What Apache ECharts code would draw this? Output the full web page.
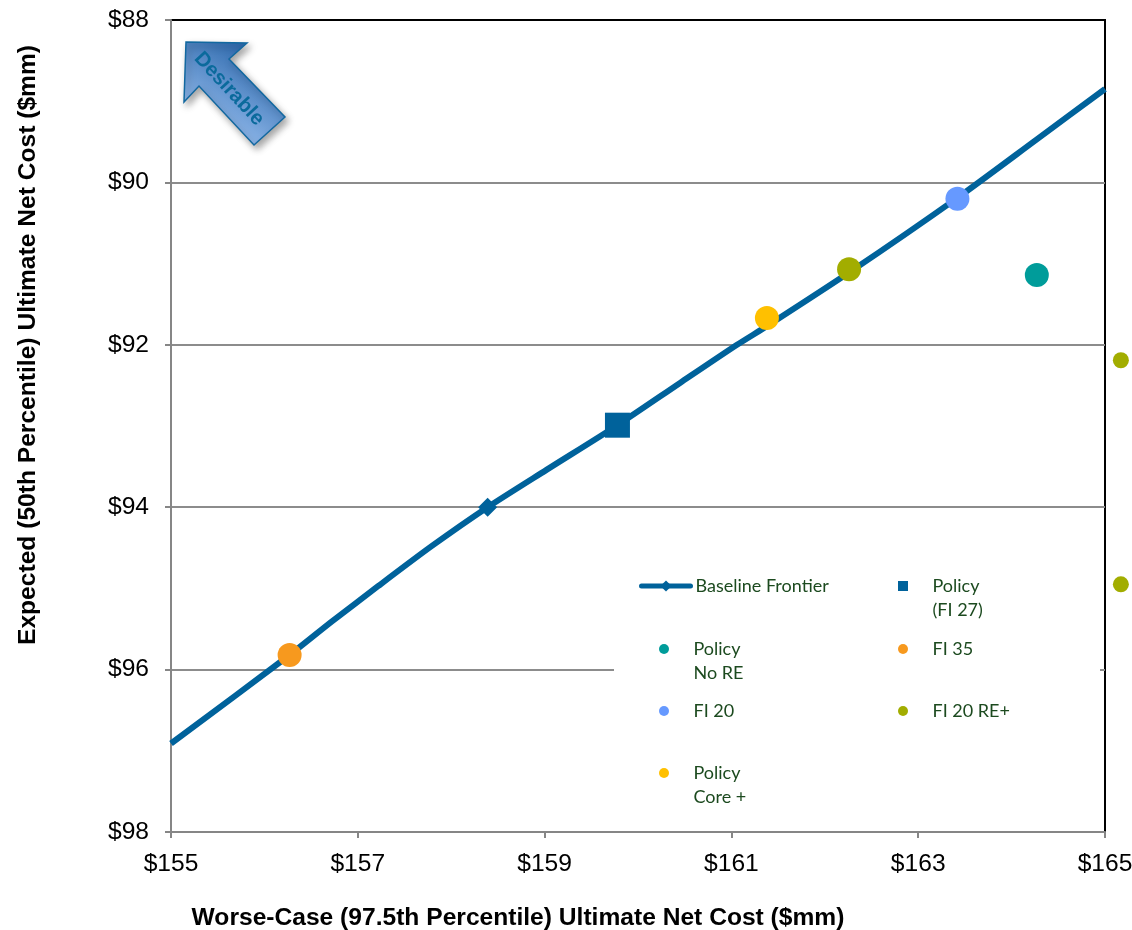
<!DOCTYPE html>
<html>
<head>
<meta charset="utf-8">
<style>html,body{margin:0;padding:0;background:#fff}#chart{width:1132px;height:930px}</style>
<script src="https://cdn.jsdelivr.net/npm/echarts@6/dist/echarts.min.js"></script>
</head>
<body>
<div id="chart"></div>
<script>
// Efficient frontier: worse-case cost against expected cost
const frontierX = [155, 156.27, 156.72, 157.22, 157.79, 158.39, 159.02, 159.78, 160.45, 161.06, 161.38, 162.26, 163.42, 164.27, 165];
const frontierY = [96.91, 95.82, 95.41, 94.97, 94.48, 94.0, 93.54, 92.99, 92.47, 92.0, 91.77, 91.11, 90.19, 89.47, 88.85];
const frontierMarkerAt = 5;

const policyFI27 = [[159.78, 92.99]];
const policyNoRE = [[164.27, 91.14]];
const fi35 = [[156.27, 95.82]];
const fi20 = [[163.42, 90.2]];
const fi20REPlusLarge = [[162.26, 91.07]];
const fi20REPlusSmall = [[165.17, 92.19], [165.17, 94.95]];
const policyCorePlus = [[161.38, 91.67]];

const legendNames = ['Baseline Frontier', 'Policy (FI 27)', 'Policy No RE', 'FI 35', 'FI 20', 'FI 20 RE+', 'Policy Core +'];
const legendLabels = [['Baseline Frontier'], ['Policy', '(FI 27)'], ['Policy', 'No RE'], ['FI 35'], ['FI 20'], ['FI 20 RE+'], ['Policy', 'Core +']];

const COLORS = {
  navy: '#00629b', teal: '#009c9a', orange: '#f7991e',
  blue: '#6699ff', olive: '#a2ad00', gold: '#ffc000'
};
const FONT = '"Liberation Sans", Arial, sans-serif';
const AXIS_FONT_SIZE = 24.6;
const LEGEND_LINE = 24;
const LEGEND_COL = [659, 898];
const LEGEND_ROW = [586, 649, 711, 773];

const legends = legendNames.map((name, i) => {
  const isFrontier = i === 0;
  const entry = {
    data: [name],
    left: isFrontier ? 639 : LEGEND_COL[i % 2],
    top: LEGEND_ROW[Math.floor(i / 2)] - LEGEND_LINE * 1.5,
    padding: 0,
    itemWidth: 49,
    itemHeight: isFrontier ? 14 : 10,
    selectedMode: false,
    // The empty first line keeps the icon level with the first text line
    formatter: () => '\n' + legendLabels[i][0] + '\n' + (legendLabels[i][1] || ' '),
    textStyle: { fontFamily: 'Lato, sans-serif', fontSize: 18, lineHeight: LEGEND_LINE, color: '#1c4a1f' }
  };
  if (isFrontier) entry.lineStyle = { width: 5, cap: 'round' };
  if (name === 'Policy (FI 27)') entry.icon = 'path://M0,0H10V10H0Z';
  return entry;
});

const scatter = (name, data, color, symbol, size) => ({
  name, type: 'scatter', data, symbol, symbolSize: size, clip: false, z: 5,
  itemStyle: { color, opacity: 1 }
});

const option = {
  animation: false,
  backgroundColor: '#fff',
  grid: {
    left: 171, right: 27, top: 20, bottom: 98, outerBoundsMode: 'none',
    show: true, borderColor: '#000', borderWidth: 2, backgroundColor: 'transparent'
  },
  legend: legends,
  xAxis: {
    type: 'value', min: 155, max: 165, interval: 2, position: 'bottom',
    name: 'Worse-Case (97.5th Percentile) Ultimate Net Cost ($mm)',
    nameLocation: 'middle', nameGap: 74,
    nameTextStyle: { fontFamily: FONT, fontSize: AXIS_FONT_SIZE, fontWeight: 'bold', color: '#000', padding: [0, 240, 0, 0] },
    axisLine: { onZero: false, lineStyle: { color: '#868686', width: 2 } },
    axisTick: { show: true, length: 6, lineStyle: { color: '#868686', width: 2 } },
    axisLabel: { formatter: v => '$' + v, fontFamily: FONT, fontSize: AXIS_FONT_SIZE, color: '#000', margin: 20, showMinLabel: true, showMaxLabel: true },
    splitLine: { show: false }
  },
  yAxis: {
    type: 'value', min: 88, max: 98, interval: 2, inverse: true, position: 'left',
    name: 'Expected (50th Percentile) Ultimate Net Cost ($mm)',
    nameLocation: 'middle', nameRotate: 90, nameGap: 130,
    nameTextStyle: { fontFamily: FONT, fontSize: AXIS_FONT_SIZE, fontWeight: 'bold', color: '#000', padding: [0, 0, 0, 162] },
    axisLine: { onZero: false, lineStyle: { color: '#868686', width: 2 } },
    axisTick: { show: true, length: 6, lineStyle: { color: '#868686', width: 2 } },
    axisLabel: { formatter: v => '$' + v, fontFamily: FONT, fontSize: AXIS_FONT_SIZE, color: '#000', margin: 22, showMinLabel: true, showMaxLabel: true },
    splitLine: { show: true, showMinLine: false, showMaxLine: false, lineStyle: { color: '#8c8c8c', width: 2 } }
  },
  series: [
    {
      name: 'Baseline Frontier', type: 'line', z: 3, clip: false, smooth: 0.25,
      symbol: 'diamond', symbolSize: 19, showAllSymbol: true,
      lineStyle: { color: COLORS.navy, width: 6 },
      itemStyle: { color: COLORS.navy },
      data: frontierX.map((x, i) => ({ value: [x, frontierY[i]], symbol: i === frontierMarkerAt ? 'diamond' : 'none' }))
    },
    scatter('Policy (FI 27)', policyFI27, COLORS.navy, 'rect', 25),
    scatter('Policy No RE', policyNoRE, COLORS.teal, 'circle', 24),
    scatter('FI 35', fi35, COLORS.orange, 'circle', 24),
    scatter('FI 20', fi20, COLORS.blue, 'circle', 24),
    scatter('FI 20 RE+', fi20REPlusLarge, COLORS.olive, 'circle', 24),
    scatter('FI 20 RE+ (off scale)', fi20REPlusSmall, COLORS.olive, 'circle', 16),
    scatter('Policy Core +', policyCorePlus, COLORS.gold, 'circle', 24)
  ],
  graphic: [
    // White panel behind the legend, over the gridline
    { type: 'rect', z: 1, silent: true, shape: { x: 614, y: 560, width: 486, height: 262 }, style: { fill: '#fff' } },
    // "Desirable" direction arrow
    {
      type: 'polygon', z: 6, silent: true,
      shape: { points: [[186, 42], [247, 43], [229, 59], [285, 117], [254, 145], [199, 86], [184, 102]] },
      style: {
        fill: {
          type: 'linear', x: 0.75, y: 0.1, x2: 0.25, y2: 0.9,
          colorStops: [{ offset: 0, color: '#2a66aa' }, { offset: 1, color: '#9cc2f2' }]
        },
        stroke: '#1268a0', lineWidth: 1.5,
        shadowBlur: 7, shadowOffsetX: 3, shadowOffsetY: 4, shadowColor: 'rgba(0,0,0,0.35)'
      }
    },
    {
      type: 'text', z: 7, silent: true, x: 229, y: 89, rotation: -47 * Math.PI / 180,
      style: { text: 'Desirable', fontFamily: FONT, fontSize: 20.5, fontWeight: 'bold', fill: '#0b6a9c', align: 'center', verticalAlign: 'middle' }
    }
  ]
};

const chart = echarts.init(document.getElementById('chart'), null, { renderer: 'canvas' });
chart.setOption(option);
</script>
</body>
</html>
